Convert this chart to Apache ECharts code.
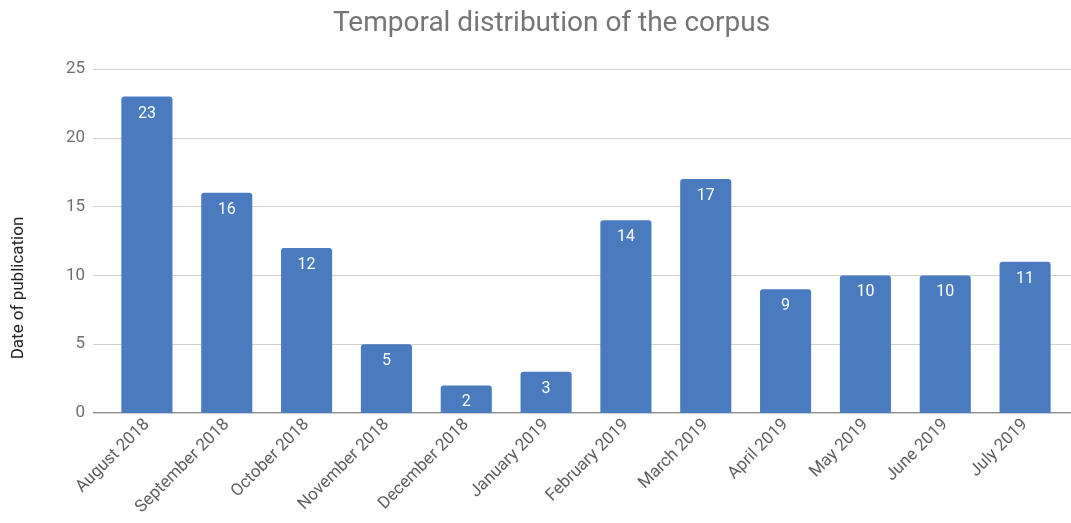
<!DOCTYPE html>
<html>
<head>
<meta charset="utf-8">
<script src="https://cdn.jsdelivr.net/npm/echarts@6/dist/echarts.min.js"></script>
<style>
html,body{margin:0;padding:0;background:#fff;}
#main{width:1071px;height:523px;}
</style>
</head>
<body>
<div id="main"></div>
<script>
// 月份（类目轴）
var months = ['August 2018','September 2018','October 2018','November 2018','December 2018','January 2019',
    'February 2019','March 2019','April 2019','May 2019','June 2019','July 2019'];
// 每月发表数
var counts = [23,16,12,5,2,3,14,17,9,10,10,11];
var yTicks = [0,5,10,15,20,25];

var FONT = 'Roboto, "Noto Sans", sans-serif';

var option = {
    animation:false,
    title:{text:'Temporal distribution of the corpus',left:328,top:5,
        textStyle:{color:'#757575',fontSize:28,fontWeight:'normal',fontFamily:FONT}},
    // 网格线用的网格（更宽） + 柱子用的网格
    grid:[
        {left:93,right:0,top:69,bottom:110},
        {left:107,right:6,top:69,bottom:110}
    ],
    xAxis:[
        {gridIndex:0,type:'value',show:false,min:0,max:1},
        {gridIndex:1,type:'category',data:months,
            axisLine:{show:false},axisTick:{show:false},
            axisLabel:{rotate:45,color:'#5f5f5f',fontSize:17,fontFamily:FONT,margin:9,interval:0}}
    ],
    yAxis:[
        {gridIndex:0,type:'value',min:yTicks[0],max:yTicks[yTicks.length-1],interval:5,
            axisLine:{show:false},axisTick:{show:false},
            axisLabel:{color:'#6f6f6f',fontSize:17,fontFamily:FONT,margin:8},
            splitLine:{lineStyle:{color:'#d0d0d0',width:1}}},
        {gridIndex:1,type:'value',min:0,max:25,show:false,splitLine:{show:false}}
    ],
    graphic:[
        {type:'text',x:19,y:288,rotation:Math.PI/2,
            style:{text:'Date of publication',fill:'#222',font:'17px '+FONT,align:'center',verticalAlign:'middle'}},
        // 0 基线
        {type:'line',shape:{x1:93,y1:413,x2:1071,y2:413},style:{stroke:'#666',lineWidth:1.5}}
    ],
    series:[{
        type:'bar',xAxisIndex:1,yAxisIndex:1,data:counts,barWidth:'64%',
        itemStyle:{color:'#4a7bbf',borderRadius:[3,3,0,0]},
        label:{show:true,position:'insideTop',distance:9,color:'#fff',fontSize:16,fontFamily:FONT}
    }]
};

var myChart = echarts.init(document.getElementById('main'));
myChart.setOption(option);
</script>
</body>
</html>
